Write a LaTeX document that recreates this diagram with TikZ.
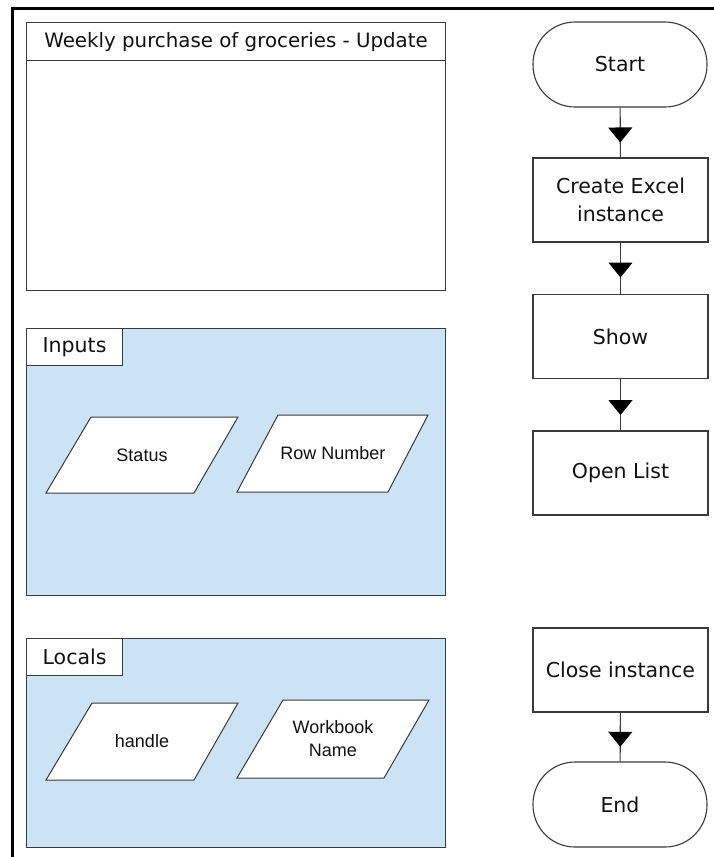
\documentclass[tikz,border=0pt]{standalone}
\usepackage{fontspec}
\setmainfont{Liberation Sans}
\newfontfamily\flowfont{DejaVu Sans}
\usetikzlibrary{decorations.markings,arrows.meta}
\definecolor{panelblue}{HTML}{CCE2F5}
\definecolor{linegray}{HTML}{3A3A3A}
\definecolor{textblack}{HTML}{111111}
\begin{document}
\begin{tikzpicture}[x=1pt,y=-1pt,
  bigfont/.style={font=\flowfont\fontsize{20.5}{28}\selectfont},
  titlefont/.style={font=\flowfont\fontsize{19.8}{24}\selectfont},
  smallfont/.style={font=\fontsize{18}{23}\selectfont},
  plainbox/.style={draw=linegray, line width=1.1pt, fill=white, inner sep=0pt, text=textblack},
  panel/.style={draw=linegray, line width=1.3pt, fill=panelblue, inner sep=0pt, anchor=north west, minimum width=419pt, minimum height=267pt},
  tabbox/.style={plainbox, bigfont, anchor=north west, minimum width=96pt, minimum height=37pt},
  paraline/.style={draw=linegray, line width=1pt, fill=white},
  paratext/.style={inner sep=0pt, smallfont, align=center, text=textblack},
  procbox/.style={plainbox, bigfont, align=center, minimum width=175pt, minimum height=84pt},
  termbox/.style={plainbox, bigfont, rounded corners=42pt, minimum width=174pt, minimum height=85pt},
  flowline/.style={draw=linegray, line width=1.1pt},
  midarrow/.style={decoration={markings, mark=at position #1 with {\arrow{Triangle[width=24pt,length=15pt,color=black]}}}, postaction={decorate}},
  midarrow/.default=0.7
]
\useasboundingbox (0,0) rectangle (713,857);
\fill[white] (0,0) rectangle (713,857);
% outer frame
\draw[line width=3pt, line join=miter] (12,860) -- (12,8) -- (716,8);

% title box
\node[plainbox, anchor=north west, minimum width=419pt, minimum height=268pt] (titlebox) at (26,22) {};
\node[plainbox, titlefont, anchor=north west, minimum width=419pt, minimum height=38pt] (title) at (26,22) {Weekly purchase of groceries - Update};

% inputs panel
\node[panel] (inputs) at (26,328) {};
\node[tabbox] (inputstab) at (26,328) {Inputs};
\coordinate (statusc) at (142,455);
\coordinate (rownumc) at (333,453.5);
\draw[paraline] ([shift={(-96pt,-38pt)}]statusc) -- ([shift={(52pt,-38pt)}]statusc) -- ([shift={(96pt,38pt)}]statusc) -- ([shift={(-51pt,38pt)}]statusc) -- cycle;
\draw[paraline] ([shift={(-96pt,-38.5pt)}]rownumc) -- ([shift={(55pt,-38.5pt)}]rownumc) -- ([shift={(95pt,38.5pt)}]rownumc) -- ([shift={(-55pt,38.5pt)}]rownumc) -- cycle;
\node[paratext] (status) at (statusc) {Status};
\node[paratext] (rownum) at (rownumc) {Row Number};

% locals panel
\node[panel, minimum height=209pt] (locals) at (26,638) {};
\node[tabbox] (localstab) at (26,638) {Locals};
\coordinate (handlec) at (142,741.5);
\coordinate (wbnamec) at (333,739);
\draw[paraline] ([shift={(-96pt,-38.5pt)}]handlec) -- ([shift={(52pt,-38.5pt)}]handlec) -- ([shift={(96pt,38.5pt)}]handlec) -- ([shift={(-50pt,38.5pt)}]handlec) -- cycle;
\draw[paraline] ([shift={(-96pt,-39pt)}]wbnamec) -- ([shift={(51pt,-39pt)}]wbnamec) -- ([shift={(96pt,39pt)}]wbnamec) -- ([shift={(-50pt,39pt)}]wbnamec) -- cycle;
\node[paratext] (handle) at (handlec) {handle};
\node[paratext] (wbname) at (wbnamec) {Workbook\\Name};

% flow
\node[termbox] (start) at (620,64.5) {Start};
\node[procbox] (create) at (620.5,200) {Create Excel\\instance};
\node[procbox] (show) at (620.5,336.5) {Show};
\node[procbox] (open) at (620.5,473) {Open List};
\node[procbox] (close) at (620.5,670) {Close instance};
\node[termbox] (end) at (620,804.5) {End};

\draw[flowline, midarrow] (start) -- (create);
\draw[flowline, midarrow=0.68] (create) -- (show);
\draw[flowline, midarrow] (show) -- (open);
\draw[flowline, midarrow] (close) -- (end);
\end{tikzpicture}
\end{document}
